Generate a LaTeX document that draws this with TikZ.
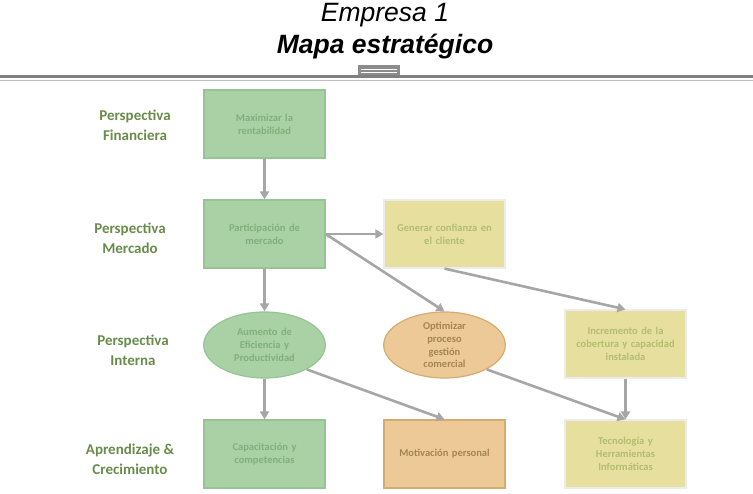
\documentclass[tikz,border=0pt]{standalone}
\usepackage{fontspec}
\setmainfont{Carlito}
\newfontfamily\arialfont{Liberation Sans}
\usetikzlibrary{positioning, arrows.meta, shapes}
\definecolor{mapgreen}{RGB}{170, 208, 166}
\definecolor{mapgreenline}{RGB}{150, 196, 146}
\definecolor{mapgreentext}{RGB}{128, 176, 124}
\definecolor{mapyellow}{RGB}{230, 223, 158}
\definecolor{mapyellowline}{RGB}{236, 236, 236}
\definecolor{mapyellowtext}{RGB}{178, 190, 112}
\definecolor{maporange}{RGB}{236, 201, 150}
\definecolor{maporangeline}{RGB}{212, 172, 112}
\definecolor{maporangetext}{RGB}{164, 134, 84}
\definecolor{mapgray}{RGB}{166, 166, 166}
\definecolor{maplabel}{RGB}{104, 140, 74}

\begin{document}
\begin{tikzpicture}[x=1pt, y=-1pt,
  box/.style={rectangle, minimum width=121pt, minimum height=68pt,
              text width=114pt, align=center, inner sep=0pt,
              font=\fontsize{10.5}{12.8}\selectfont\bfseries, line width=1.2pt},
  oval/.style={ellipse, minimum width=121pt, minimum height=66pt,
               text width=86pt, align=center, inner sep=0pt,
               font=\fontsize{10.5}{12.8}\selectfont\bfseries, line width=1.2pt},
  greenbox/.style={fill=mapgreen, draw=mapgreenline, text=mapgreentext},
  yellowbox/.style={fill=mapyellow, draw=mapyellowline, text=mapyellowtext},
  orangebox/.style={fill=maporange, draw=maporangeline, text=maporangetext},
  persp/.style={align=center, text=maplabel,
                font=\fontsize{15}{20}\selectfont\bfseries},
  arr/.style={-{Triangle[length=8pt, width=9pt]}, line width=2.6pt, color=mapgray}
]
  \useasboundingbox (0,0) rectangle (753,494);

  % Title
  \node[font=\arialfont\fontsize{26.5}{28}\selectfont\itshape] (title1) at (385,15.5) {Empresa 1};
  \node[font=\arialfont\fontsize{26.5}{28}\selectfont\bfseries\itshape] (title2) at (385,47) {Mapa estratégico};

  % Rule under the title
  \draw[line width=2.6pt, color=black!50] (0,76.5) -- (753,76.5);
  \draw[line width=1.2pt, color=black!25] (0,80.5) -- (753,80.5);
  \fill[black!45] (358,65.5) rectangle (400,75.5);
  \draw[white, line width=0.8pt] (361,69) -- (397,69);
  \draw[white, line width=0.8pt] (361,72.5) -- (397,72.5);

  % Perspectives
  \node[persp] (pfin) at (135,125) {Perspectiva\\Financiera};
  \node[persp] (pmer) at (130,238) {Perspectiva\\Mercado};
  \node[persp] (pint) at (133,350) {Perspectiva\\Interna};
  \node[persp] (papr) at (130,459) {Aprendizaje \&\\Crecimiento};

  % Row 1
  \node[box, greenbox]  (maxr) at (264.5,124) {Maximizar la\\rentabilidad};

  % Row 2
  \node[box, greenbox]  (part) at (264.5,234) {Participación de\\mercado};
  \node[box, yellowbox] (conf) at (444.5,234) {Generar confianza en\\el cliente};

  % Row 3
  \node[oval, greenbox]  (aum)  at (264.5,345) {Aumento de\\Eficiencia y\\Productividad};
  \node[oval, orangebox] (opt)  at (444.5,345) {Optimizar\\proceso\\gestión\\comercial};
  \node[box, yellowbox]  (incr) at (625.5,344) {Incremento de la\\cobertura y capacidad\\instalada};

  % Row 4
  \node[box, greenbox]  (cap) at (264.5,454) {Capacitación y\\competencias};
  \node[box, orangebox] (mot) at (444.5,454) {Motivación personal};
  \node[box, yellowbox] (tec) at (625.5,454) {Tecnología y\\Herramientas\\Informáticas};

  % Arrows
  \draw[arr] (maxr) -- (part);
  \draw[arr] (part.east) -- (conf.west);
  \draw[arr] (part.east) -- (opt.north);
  \draw[arr] (conf.south) -- (incr.north);
  \draw[arr] (part) -- (aum);
  \draw[arr] (aum) -- (cap);
  \draw[arr] (aum.-30) -- (mot.north);
  \draw[arr] (opt.-30) -- (tec.north);
  \draw[arr] (incr) -- (tec);
\end{tikzpicture}
\end{document}
